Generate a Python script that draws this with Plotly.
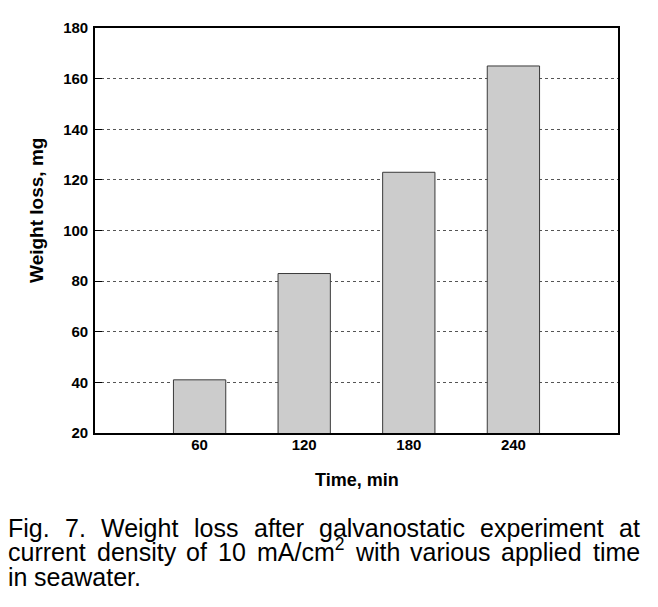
import plotly.graph_objects as go

# ---- data ----
times = ["60", "120", "180", "240"]
weight_loss = [41, 83, 123, 165]
y_ticks = [20, 40, 60, 80, 100, 120, 140, 160, 180]
x_title = "Time, min"
y_title = "Weight loss, mg"
caption_lines = [
    ["Fig.", "7.", "Weight", "loss", "after", "galvanostatic", "experiment", "at"],
    ["current", "density", "of", "10", "mA/cm<sup>2</sup>", "with", "various", "applied", "time"],
    ["in", "seawater."],
]

OFF = 8  # page body margin
W, H = 658 - OFF, 607 - OFF
L, R, T, B = 95 - OFF, 40, 19 - OFF, 174
PW, PH = W - L - R, H - T - B

def px(x):
    return (x - OFF - L) / PW

def py(y):
    return (H - B - (y - OFF)) / PH

FONT = "Arial, Liberation Sans, sans-serif"

fig = go.Figure(
    go.Bar(
        x=times,
        y=weight_loss,
        width=0.5,
        marker=dict(color="#cccccc", line=dict(color="#3a3a3a", width=1)),
        showlegend=False,
    )
)

fig.update_xaxes(
    type="category",
    range=[-1, 4],
    showgrid=False,
    ticks="",
    showline=True,
    mirror=True,
    linecolor="black",
    linewidth=1.6,
    tickfont=dict(family=FONT, size=15, color="black", weight="bold"),
    ticklabelstandoff=-3,
)
fig.update_yaxes(
    range=[20, 180],
    tickvals=y_ticks,
    ticks="inside",
    ticklen=7,
    tickwidth=1,
    tickcolor="black",
    showgrid=True,
    gridcolor="#555555",
    griddash="dot",
    gridwidth=1,
    zeroline=False,
    showline=True,
    mirror=True,
    linecolor="black",
    linewidth=1.6,
    tickfont=dict(family=FONT, size=15, color="black", weight="bold"),
    ticklabelstandoff=2,
)

ann = []
ann.append(dict(text=y_title, x=px(37), y=py(206), xref="paper", yref="paper",
                textangle=-90, showarrow=False, xanchor="center", yanchor="middle",
                font=dict(family=FONT, size=19, color="black", weight="bold")))
ann.append(dict(text=x_title, x=px(357), y=py(481), xref="paper", yref="paper",
                showarrow=False, xanchor="center", yanchor="middle",
                font=dict(family=FONT, size=18, color="black", weight="bold")))

# caption: justified text using Arial metrics
CW = {' ': 278, '.': 278, ',': 278, '/': 278, 'A': 667, 'F': 611, 'W': 944,
      'a': 556, 'c': 500, 'd': 556, 'e': 556, 'f': 278, 'g': 556, 'h': 556,
      'i': 222, 'l': 222, 'm': 833, 'n': 556, 'o': 556, 'p': 556, 'r': 333,
      's': 500, 't': 278, 'u': 556, 'v': 500, 'w': 722, 'x': 500, 'y': 500}
CAP_FS = 25

def word_width(w):
    sup = 0
    if "<sup>" in w:
        base, rest = w.split("<sup>")
        s = rest.replace("</sup>", "")
        sup = sum(556 if c.isdigit() else CW.get(c, 556) for c in s) * 0.7
        w = base
    tot = sum(556 if c.isdigit() else CW.get(c, 556) for c in w) + sup
    return tot / 1000 * CAP_FS

x0, x1 = 8, 640
line_bottom = [544, 569, 594]
for i, words in enumerate(caption_lines):
    widths = [word_width(w) for w in words]
    if i < 2:
        gap = (x1 - x0 - sum(widths)) / (len(words) - 1)
    else:
        gap = 0.278 * CAP_FS
    x = x0
    for w, ww in zip(words, widths):
        ann.append(dict(text=w, x=px(x), y=py(line_bottom[i]), xref="paper", yref="paper",
                        showarrow=False, xanchor="left", yanchor="bottom",
                        borderpad=0, borderwidth=0,
                        font=dict(family=FONT, size=CAP_FS, color="black")))
        x += ww + gap

fig.update_layout(
    width=W, height=H,
    margin=dict(l=L, r=R, t=T, b=B, pad=0),
    paper_bgcolor="white", plot_bgcolor="white",
    annotations=ann,
    bargap=0.5,
)

fig.write_html("out.html")
